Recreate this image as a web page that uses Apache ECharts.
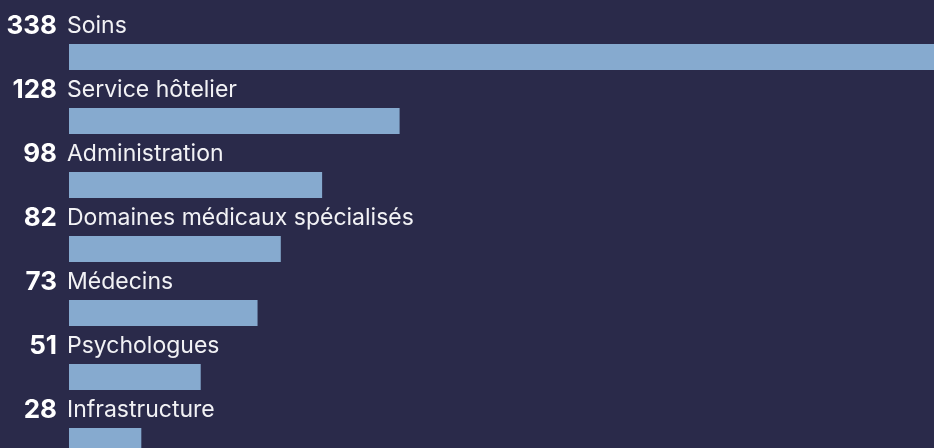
<!DOCTYPE html>
<html><head><meta charset="utf-8">
<style>html,body{margin:0;padding:0;background:#2a2a4a;}#c{width:934px;height:448px;}</style>
<script src="https://cdn.jsdelivr.net/npm/echarts@6/dist/echarts.min.js"></script>
</head><body><div id="c"></div>
<script>
const categories = ["Soins","Service hôtelier","Administration","Domaines médicaux spécialisés","Médecins","Psychologues","Infrastructure"];
const values = [338,128,98,82,73,51,28];

const chart = echarts.init(document.getElementById('c'), null, {renderer:'canvas'});
chart.setOption({
  backgroundColor:'#2a2a4a',
  animation:false,
  grid:{left:69, right:-8, top:25, bottom:-25, containLabel:false, outerBoundsMode:'none'},
  xAxis:{type:'value', min:0, max:338, show:false},
  yAxis:{type:'category', data:categories, inverse:true, show:false},
  series:[{
    type:'bar',
    data:values,
    barWidth:26,
    clip:false,
    itemStyle:{color:'#86aacf'},
    label:{
      show:true,
      position:[-12,-18],
      align:'right',
      verticalAlign:'middle',
      formatter:'{c}',
      fontFamily:'Inter', fontWeight:'bold', fontSize:26, color:'#ffffff'
    }
  },{
    type:'bar',
    data:values,
    barWidth:26,
    barGap:'-100%',
    clip:false,
    itemStyle:{color:'rgba(0,0,0,0)'},
    label:{
      show:true,
      position:[-2,-18],
      align:'left',
      verticalAlign:'middle',
      formatter:'{b}',
      fontFamily:'Inter', fontSize:23, color:'#f2f2f5'
    }
  }]
});
</script></body></html>
